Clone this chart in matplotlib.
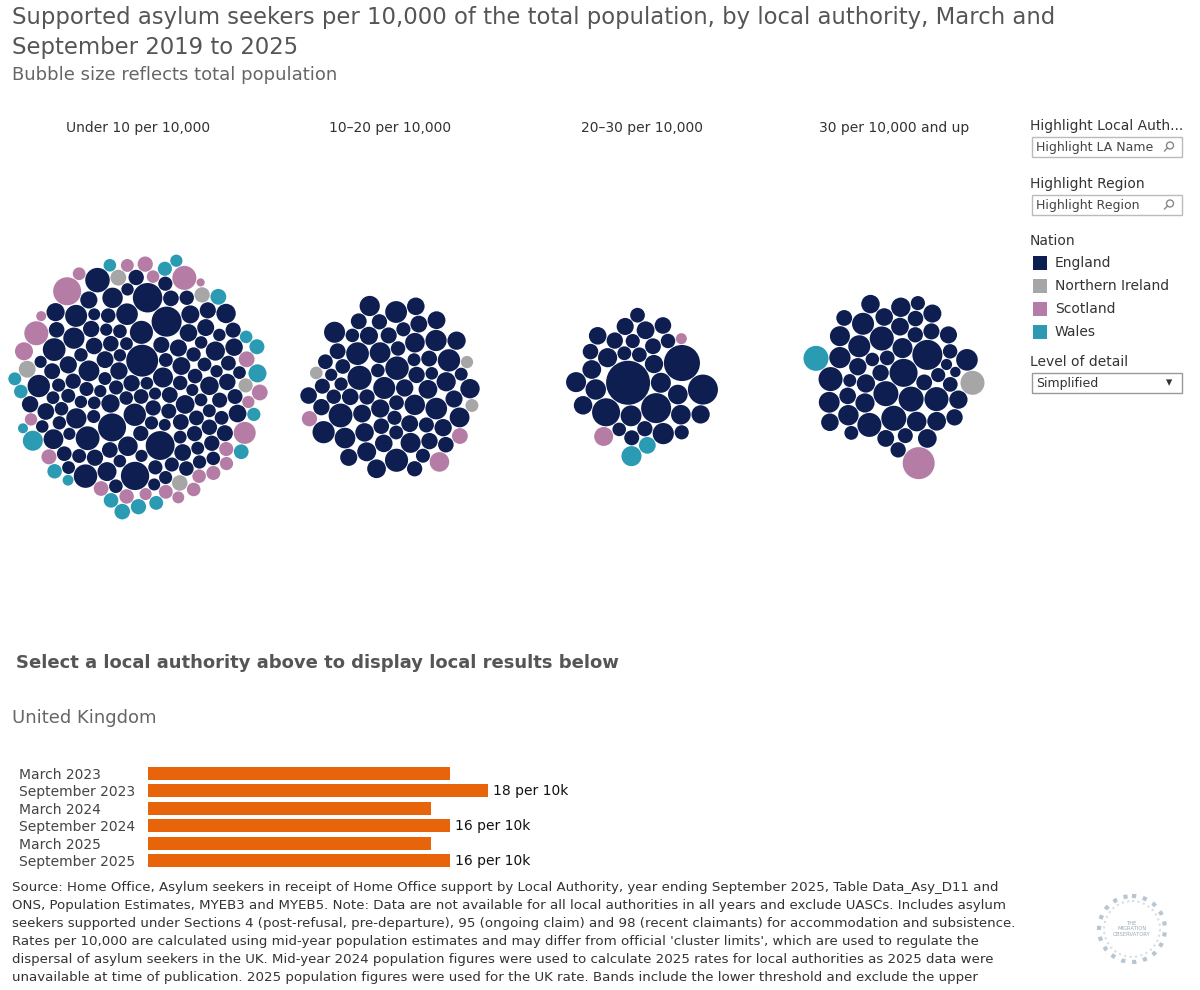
import math
import numpy as np
import matplotlib
matplotlib.use("Agg")
import matplotlib.pyplot as plt
from matplotlib.patches import Circle, Rectangle

# ---- data -------------------------------------------------------------
bands = ["Under 10 per 10,000", "10\u201320 per 10,000", "20\u201330 per 10,000", "30 per 10,000 and up"]
nations = ["England", "Northern Ireland", "Scotland", "Wales"]
nation_colors = {"England": "#0e1e50", "Northern Ireland": "#a6a6a6",
                 "Scotland": "#b57da6", "Wales": "#2a9bb3"}

# population (thousands) of each local authority, per band and nation
band1_england = [160, 95, 130, 610, 110, 180, 88, 240, 120, 150,
                 100, 300, 140, 92, 200, 115, 470, 135, 90, 170,
                 105, 260, 125, 98, 155, 190, 85, 320, 118, 145,
                 96, 210, 540, 112, 138, 87, 175, 230, 102, 128,
                 93, 165, 280, 108, 150, 500, 99, 185, 122, 140,
                 90, 245, 113, 160, 97, 340, 132, 89, 205, 117,
                 520, 148, 94, 178, 126, 101, 270, 139, 91, 158,
                 110, 220, 86, 168, 136, 310, 104, 152, 95, 195,
                 480, 121, 143, 100, 250, 114, 88, 172, 131, 290,
                 98, 162, 119, 147, 92, 215, 107, 176, 134, 360,
                 93, 156, 124, 103, 188, 141, 89, 235, 116, 129,
                 300, 97, 167, 111, 145, 94, 198, 127, 106, 154,
                 87, 183, 120, 330, 137, 99, 161, 109, 225, 142]
band1_ni = [170, 150, 145, 140, 120]
band1_scotland = [470, 346, 346, 290, 195, 150, 120, 95, 110, 140, 88, 130, 100,
                  90, 115, 105, 125, 92, 135, 98, 150, 85, 110, 60, 118, 40]
band1_wales = [240, 195, 150, 130, 120, 140, 110, 95, 125, 100, 135, 115, 90,
               70, 105, 128, 95, 60, 145]

band2_england = [290, 180, 130, 330, 200, 110, 250, 160, 140, 350,
                 120, 210, 170, 260, 100, 190, 145, 310, 125, 230,
                 165, 95, 280, 150, 205, 135, 340, 115, 185, 220,
                 155, 105, 270, 175, 130, 240, 195, 300, 120, 160,
                 215, 140, 90, 255, 180, 125, 320, 150, 200, 110,
                 235, 170, 135, 285, 145, 190, 100, 225, 160, 130,
                 265, 175, 118, 210, 150, 245, 185, 140, 295, 165]
band2_ni = [90, 100, 95]
band2_scotland = [150, 140, 230]
band2_wales = []

band3_england = [1160, 240, 540, 200, 130, 260, 115, 780, 230, 470,
                 150, 220, 120, 250, 140, 210, 540, 125, 190, 160,
                 230, 110, 175, 270, 135, 205, 145, 185, 120, 240,
                 165, 200, 130]
band3_ni = []
band3_scotland = [216, 73]
band3_wales = [168, 241]

band4_england = [470, 160, 375, 130, 240, 375, 110, 200, 540, 150,
                 346, 180, 290, 120, 375, 220, 140, 346, 190, 270,
                 100, 346, 165, 230, 130, 210, 290, 155, 75, 185,
                 346, 145, 250, 125, 205, 65, 175, 260, 135, 195,
                 115, 240, 170, 150, 225, 120, 200, 280, 140, 185,
                 160, 210]
band4_ni = [346]
band4_scotland = [614]
band4_wales = [375]

band_data = [
    [band1_england, band1_ni, band1_scotland, band1_wales],
    [band2_england, band2_ni, band2_scotland, band2_wales],
    [band3_england, band3_ni, band3_scotland, band3_wales],
    [band4_england, band4_ni, band4_scotland, band4_wales],
]

# United Kingdom rate per 10,000
periods = ["March 2023", "September 2023", "March 2024",
           "September 2024", "March 2025", "September 2025"]
uk_rate = [16.0, 18.0, 15.0, 16.0, 15.0, 16.0]

title = ("Supported asylum seekers per 10,000 of the total population, by local authority, March and\n"
         "September 2019 to 2025")
subtitle = "Bubble size reflects total population"
source_lines = [
    "Source: Home Office, Asylum seekers in receipt of Home Office support by Local Authority, year ending September 2025, Table Data_Asy_D11 and",
    "ONS, Population Estimates, MYEB3 and MYEB5. Note: Data are not available for all local authorities in all years and exclude UASCs. Includes asylum",
    "seekers supported under Sections 4 (post-refusal, pre-departure), 95 (ongoing claim) and 98 (recent claimants) for accommodation and subsistence.",
    "Rates per 10,000 are calculated using mid-year population estimates and may differ from official 'cluster limits', which are used to regulate the",
    "dispersal of asylum seekers in the UK. Mid-year 2024 population figures were used to calculate 2025 rates for local authorities as 2025 data were",
    "unavailable at time of publication. 2025 population figures were used for the UK rate. Bands include the lower threshold and exclude the upper",
]


# ---- circle packing (front-chain, as in d3.packSiblings) -----------------
class C:
    def __init__(self, r, color):
        self.r = r
        self.x = 0.0
        self.y = 0.0
        self.color = color


class Node:
    def __init__(self, c):
        self._ = c
        self.next = None
        self.previous = None


def place(b, a, c):
    dx = b.x - a.x
    dy = b.y - a.y
    d2 = dx * dx + dy * dy
    if d2:
        a2 = (a.r + c.r) ** 2
        b2 = (b.r + c.r) ** 2
        if a2 > b2:
            x = (d2 + b2 - a2) / (2 * d2)
            y = math.sqrt(max(0, b2 / d2 - x * x))
            c.x = b.x - x * dx - y * dy
            c.y = b.y - x * dy + y * dx
        else:
            x = (d2 + a2 - b2) / (2 * d2)
            y = math.sqrt(max(0, a2 / d2 - x * x))
            c.x = a.x + x * dx - y * dy
            c.y = a.y + x * dy + y * dx
    else:
        c.x = a.x + c.r
        c.y = a.y


def intersects(a, b):
    dr = a.r + b.r - 1e-6
    dx = b.x - a.x
    dy = b.y - a.y
    return dr > 0 and dr * dr > dx * dx + dy * dy


def score(node):
    a = node._
    b = node.next._
    ab = a.r + b.r
    dx = (a.x * b.r + b.x * a.r) / ab
    dy = (a.y * b.r + b.y * a.r) / ab
    return dx * dx + dy * dy


def pack(circles):
    n = len(circles)
    a = circles[0]
    a.x = a.y = 0
    if n == 1:
        return
    b = circles[1]
    a.x = -b.r
    b.x = a.r
    b.y = 0
    if n == 2:
        return
    c = circles[2]
    place(b, a, c)
    a, b, c = Node(a), Node(b), Node(c)
    a.next = c.previous = b
    b.next = a.previous = c
    c.next = b.previous = a
    i = 3
    while i < n:
        place(a._, b._, circles[i])
        c = Node(circles[i])
        j, k = b.next, a.previous
        sj, sk = b._.r, a._.r
        retry = False
        while True:
            if sj <= sk:
                if intersects(j._, c._):
                    b = j
                    a.next = b
                    b.previous = a
                    retry = True
                    break
                sj += j._.r
                j = j.next
            else:
                if intersects(k._, c._):
                    a = k
                    a.next = b
                    b.previous = a
                    retry = True
                    break
                sk += k._.r
                k = k.previous
            if j is k.next:
                break
        if retry:
            continue
        c.previous = a
        c.next = b
        a.next = c
        b.previous = c
        b = c
        aa = score(a)
        c = c.next
        while c is not b:
            ca = score(c)
            if ca < aa:
                a = c
                aa = ca
            c = c.next
        b = a.next
        i += 1


px_per_sqrt_k = 0.646   # bubble radius in pixels per sqrt(thousand people)
gap = 0.8
mirror = [False, False, False, True]

# ---- figure ------------------------------------------------------------
fig = plt.figure(figsize=(12, 9.9), dpi=100)
ax = fig.add_axes([0, 0, 1, 1])
ax.set_xlim(0, 1200)
ax.set_ylim(990, 0)
ax.axis("off")

ax.text(12, 6, title, fontsize=16.4, color="#555555", va="top", ha="left", linespacing=1.38)
ax.text(12, 66, subtitle, fontsize=13.0, color="#666666", va="top", ha="left")

band_cx = [138, 390, 642, 894]
band_cy = 387
for bi, band in enumerate(bands):
    ax.text(band_cx[bi], 128, band, fontsize=10, color="#333333", ha="center", va="center")
    circles = []
    for ni, pops in enumerate(band_data[bi]):
        for p in pops:
            circles.append(C(px_per_sqrt_k * math.sqrt(p) + gap / 2, nation_colors[nations[ni]]))
    pack(circles)
    sx = -1 if mirror[bi] else 1
    xs = np.array([sx * c.x for c in circles])
    ys = np.array([c.y for c in circles])
    rs = np.array([c.r for c in circles])
    ox = ((xs - rs).min() + (xs + rs).max()) / 2
    oy = ((ys - rs).min() + (ys + rs).max()) / 2
    for x, y, c in zip(xs, ys, circles):
        ax.add_patch(Circle((band_cx[bi] + x - ox, band_cy + y - oy), c.r - gap / 2,
                            facecolor=c.color, edgecolor="none"))

# right panel controls
ax.text(1030, 126, "Highlight Local Auth...", fontsize=10, color="#333333", va="center")
ax.add_patch(Rectangle((1032, 137), 150, 20, facecolor="white", edgecolor="#bbbbbb", lw=1))
ax.text(1036, 147, "Highlight LA Name", fontsize=9, color="#444444", va="center")
ax.text(1030, 184, "Highlight Region", fontsize=10, color="#333333", va="center")
ax.add_patch(Rectangle((1032, 195), 150, 20, facecolor="white", edgecolor="#bbbbbb", lw=1))
ax.text(1036, 205, "Highlight Region", fontsize=9, color="#444444", va="center")
for yy in (147, 205):
    ax.add_patch(Circle((1170, yy - 1.5), 3.5, facecolor="none", edgecolor="#888888", lw=1))
    ax.plot([1167.5, 1164.5], [yy + 1, yy + 4], color="#888888", lw=1)

ax.text(1030, 241, "Nation", fontsize=10, color="#333333", va="center")
for ni, nation in enumerate(nations):
    yy = 263 + ni * 23
    ax.add_patch(Rectangle((1033, yy - 7), 14, 14, facecolor=nation_colors[nation], edgecolor="none"))
    ax.text(1055, yy, nation, fontsize=10, color="#333333", va="center")

ax.text(1030, 362, "Level of detail", fontsize=10, color="#333333", va="center")
ax.add_patch(Rectangle((1032, 373), 150, 20, facecolor="white", edgecolor="#999999", lw=1))
ax.text(1036, 383, "Simplified", fontsize=9, color="#333333", va="center")
ax.text(1169, 383, "\u25BE", fontsize=9, color="#333333", va="center", ha="center")

ax.text(16, 663, "Select a local authority above to display local results below",
        fontsize=13.0, fontweight="bold", color="#555555", va="center")
ax.text(12, 718, "United Kingdom", fontsize=13, color="#666666", va="center")

for li, line in enumerate(source_lines):
    ax.text(12, 887 + li * 18, line, fontsize=9.65, color="#333333", va="center")

# logo
ax.add_patch(Circle((1132, 929), 33, facecolor="none", edgecolor="#b8c6d2", lw=3, ls=":"))
ax.add_patch(Circle((1132, 929), 28, facecolor="none", edgecolor="#d5dde5", lw=1.5, ls=":"))
ax.text(1132, 929, "THE\nMIGRATION\nOBSERVATORY", fontsize=3.8, color="#9aaab8",
        ha="center", va="center", linespacing=1.1)

# ---- UK bar chart ------------------------------------------------------
bx = fig.add_axes([148 / 1200, 1 - 869.5 / 990, 472 / 1200, 105 / 990])
ypos = np.arange(len(periods))
bx.barh(ypos, uk_rate, height=0.76, color="#e8640a")
bx.set_xlim(0, 472 / 18.9)
bx.set_ylim(len(periods) - 0.5, -0.5)
bx.set_yticks(ypos)
bx.set_yticklabels(periods, fontsize=10, color="#444444", ha="left")
bx.tick_params(axis="y", length=0, pad=93)
bx.set_xticks([])
for s in bx.spines.values():
    s.set_visible(False)
bx.patch.set_alpha(0)
for yi, (per, v) in enumerate(zip(periods, uk_rate)):
    if per.startswith("September"):
        bx.text(v + 0.25, yi, f"{v:.0f} per 10k", fontsize=10, color="#111111", va="center")

fig.savefig("out.png", dpi=100)
